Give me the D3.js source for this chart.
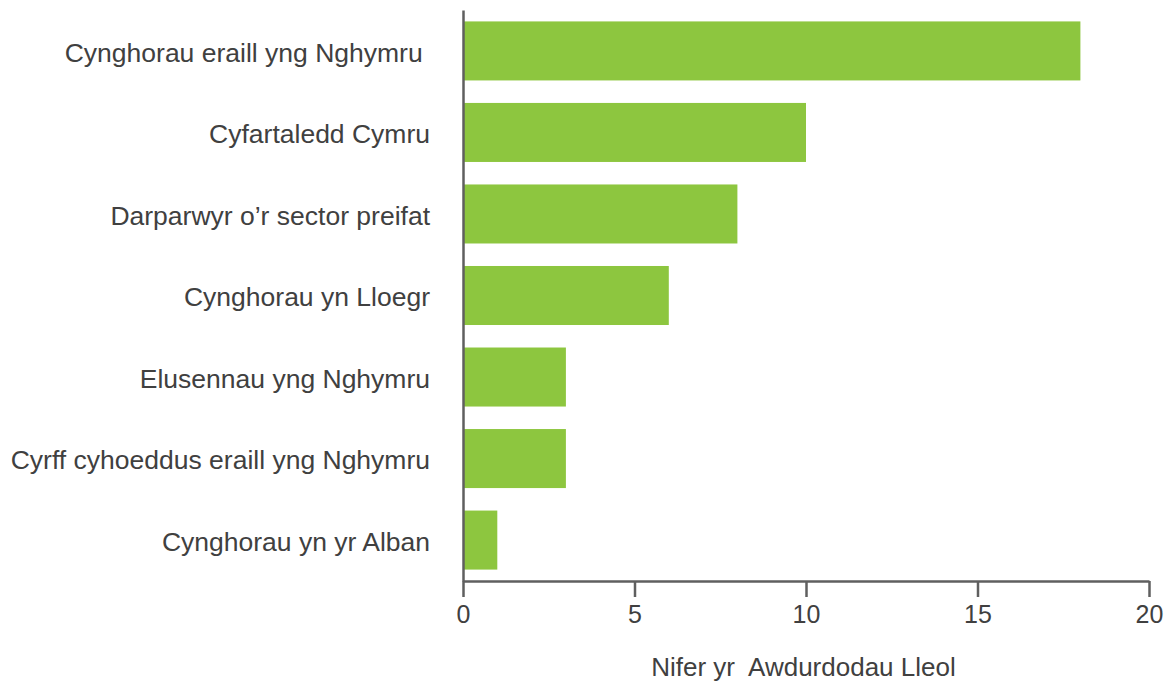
<!DOCTYPE html>
<html>
<head>
<meta charset="utf-8">
<script src="https://cdn.jsdelivr.net/npm/d3@7"></script>
<style>
  body { margin: 0; background: #fff; }
  text { font-family: "Liberation Sans", Arial, sans-serif; fill: #404040; }
</style>
</head>
<body>
<div id="chart"></div>
<script>
'use strict';

// categories top to bottom
const categories = [
  "Cynghorau eraill yng Nghymru ",
  "Cyfartaledd Cymru",
  "Darparwyr o’r sector preifat",
  "Cynghorau yn Lloegr",
  "Elusennau yng Nghymru",
  "Cyrff cyhoeddus eraill yng Nghymru",
  "Cynghorau yn yr Alban",
];
const values = [18, 10, 8, 6, 3, 3, 1];
const xTicks = [0, 5, 10, 15, 20];
const xTitle = "Nifer yr  Awdurdodau Lleol";

const Color = {
  Bar: "#8dc63f",
  Axis: "#5f5f5f",
  Text: "#404040",
};

const W = 1168, H = 682;
const margin = {left: 463, right: 1149, top: 10, bottom: 581};

const svg = d3.select("#chart")
  .append("svg")
    .attr("width", W)
    .attr("height", H);

const x = d3.scaleLinear()
  .domain([0, 20])
  .range([margin.left, margin.right]);

const y = d3.scaleBand()
  .domain(categories)
  .range([margin.top, margin.bottom])
  .paddingInner(0.276)
  .paddingOuter(0.14);

// bars
svg.selectAll(".bar")
  .data(values)
  .enter()
  .append("rect")
    .attr("class", "bar")
    .attr("x", x(0))
    .attr("y", (d, i) => y(categories[i]))
    .attr("width", d => x(d) - x(0))
    .attr("height", y.bandwidth())
    .attr("fill", Color.Bar);

// x axis
const xAxis = svg.append("g")
  .attr("transform", `translate(0,${margin.bottom})`)
  .call(d3.axisBottom(x).tickValues(xTicks).tickSize(16).tickSizeOuter(0).tickPadding(8));
xAxis.select(".domain").attr("stroke", Color.Axis).attr("stroke-width", 2.5);
xAxis.selectAll(".tick line").attr("stroke", Color.Axis).attr("stroke-width", 2.5);
xAxis.selectAll(".tick text")
  .attr("fill", Color.Text)
  .style("font-size", "25px")
  .style("font-family", "Liberation Sans, Arial, sans-serif");

// y axis (line + labels, no ticks)
const yAxis = svg.append("g")
  .attr("transform", `translate(${margin.left},0)`)
  .call(d3.axisLeft(y).tickSize(0).tickSizeOuter(0).tickPadding(33));
yAxis.select(".domain").attr("stroke", Color.Axis).attr("stroke-width", 2.5);
yAxis.selectAll(".tick text")
  .attr("fill", Color.Text)
  .attr("dy", "0.4em")
  .style("white-space", "pre")
  .style("font-size", "26.5px")
  .style("font-family", "Liberation Sans, Arial, sans-serif");

// x title
svg.append("text")
  .attr("x", (652 + 955) / 2)
  .attr("y", 676)
  .attr("text-anchor", "middle")
  .style("white-space", "pre")
  .style("font-size", "26px")
  .text(xTitle);
</script>
</body>
</html>
